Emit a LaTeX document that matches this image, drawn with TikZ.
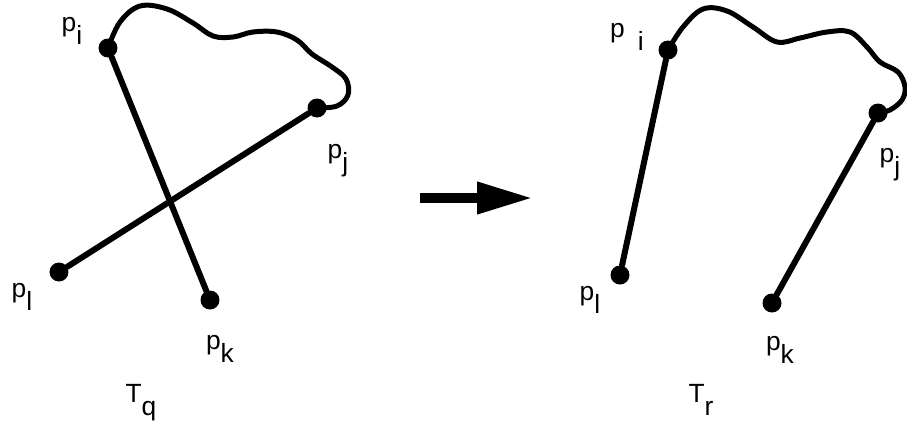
\documentclass[tikz,border=0pt]{standalone}
\usepackage{fontspec}
\setmainfont{Liberation Sans}
\usepackage{tikz}
\usetikzlibrary{arrows.meta}
\newcommand{\sub}[2]{#1\raisebox{-0.5em}{#2}}

\begin{document}
\begin{tikzpicture}[x=0.02cm, y=-0.02cm, font=\fontsize{15}{17}\selectfont,
  dot/.style={circle, fill, inner sep=0pt, minimum size=0.38cm},
  lbl/.style={inner sep=0pt, anchor=center},
  curve/.style={line width=0.1cm, line join=round, line cap=round},
  seg/.style={line width=0.12cm, line cap=round}]
\useasboundingbox (0,0) rectangle (907,430);
% left tour T_q
\node[dot] (qi) at (108,48) {};
\node[dot] (qj) at (317,108) {};
\node[dot] (ql) at (59,272) {};
\node[dot] (qk) at (210,300) {};
\draw[curve] plot[smooth, tension=0.6] coordinates {(qi.center) (120,22) (140,6) (167,9) (193,23) (213,36) (233,37) (253,32) (277,32) (297,40) (312,54) (332,67) (346,79) (348,95) (337,106) (qj.center)};
\draw[seg] (qi) -- (qk);
\draw[seg] (qj) -- (ql);
\node[lbl] (lqi) at (72,31) {\sub{p}{i}};
\node[lbl] (lqj) at (338,161) {\sub{p}{j}};
\node[lbl] (lql) at (22,297) {\sub{p}{l}};
\node[lbl] (lqk) at (220,349) {\sub{p}{k}};
\node[lbl] (tq) at (141,403) {\sub{T}{q}};
% arrow
\coordinate (a1) at (420,198);
\coordinate (a2) at (533,198);
\draw[line width=0.2cm, -{Triangle[length=1.12cm, width=0.6cm]}] (a1) -- (a2);
% right tour T_r
\node[dot] (ri) at (668,50) {};
\node[dot] (rj) at (878,113) {};
\node[dot] (rl) at (620,275) {};
\node[dot] (rk) at (772,303) {};
\draw[curve] plot[smooth, tension=0.6] coordinates {(ri.center) (683,27) (703,9) (727,11) (753,27) (777,42) (800,38) (827,32) (850,32) (867,47) (880,62) (898,72) (905,87) (902,100) (890,110) (rj.center)};
\draw[seg] (ri) -- (rl);
\draw[seg] (rj) -- (rk);
\node[lbl] (lri) at (627,37) {p\hspace{0.5em}\sub{}{i}};
\node[lbl] (lrj) at (890,165) {\sub{p}{j}};
\node[lbl] (lrl) at (590,300) {\sub{p}{l}};
\node[lbl] (lrk) at (780,350) {\sub{p}{k}};
\node[lbl] (tr) at (701,400) {\sub{T}{r}};
\end{tikzpicture}
\end{document}
